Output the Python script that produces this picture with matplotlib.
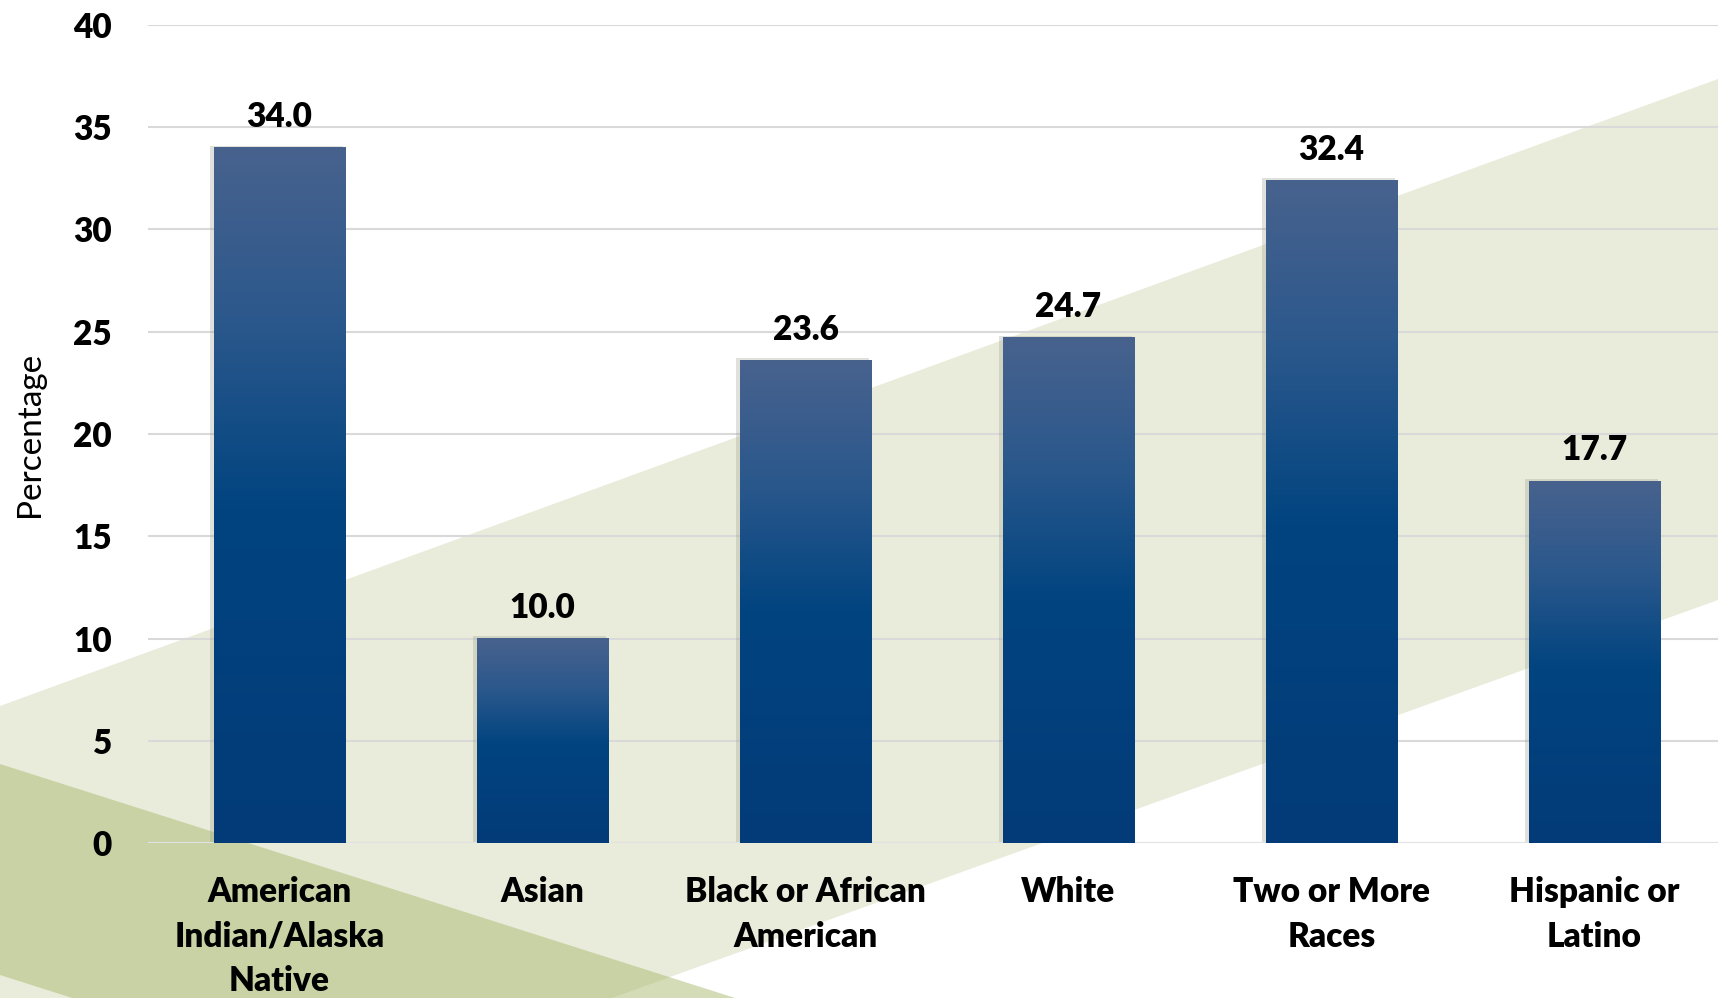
import numpy as np
import matplotlib
matplotlib.use("Agg")
from matplotlib import pyplot as plt
from matplotlib.colors import LinearSegmentedColormap
from matplotlib.patches import Polygon, Rectangle

plt.rcParams["font.family"] = ["Lato", "DejaVu Sans"]

categories = ["American\nIndian/Alaska\nNative", "Asian", "Black or African\nAmerican",
              "White", "Two or More\nRaces", "Hispanic or\nLatino"]
values = [34.0, 10.0, 23.6, 24.7, 32.4, 17.7]
y_ticks = [0, 5, 10, 15, 20, 25, 30, 35, 40]

W, H = 1718, 998
fig = plt.figure(figsize=(W / 100, H / 100), dpi=100)

# background shapes, in pixel coords of the figure
bg = fig.add_axes([0, 0, 1, 1], zorder=0)
bg.set_xlim(0, W)
bg.set_ylim(H, 0)
bg.axis("off")
bg.add_patch(Polygon([(0, 706), (W, 79), (W, 600), (0, 1218)],
                     closed=True, facecolor="#E9ECDA", edgecolor="none"))
bg.add_patch(Polygon([(0, 764), (1200, 1146), (1200, 1357), (0, 975)],
                     closed=True, facecolor=(168 / 255, 186 / 255, 112 / 255),
                     alpha=0.5, edgecolor="none"))

ax = fig.add_axes([148 / W, 1 - 843 / H, 1 - 148 / W, (843 - 25) / H], zorder=1)
ax.set_facecolor("none")

x = np.arange(len(values))
grad_cmap = LinearSegmentedColormap.from_list(
    "bar", [(0, "#033B78"), (0.48, "#014480"), (0.75, "#2B588C"), (1, "#48628E")])
grad = np.linspace(0, 1, 256).reshape(-1, 1)

bold = "heavy"
bars = ax.bar(x, values, width=0.5, color="none", zorder=3)
for b, v in zip(bars, values):
    x0, w = b.get_x(), b.get_width()
    # soft shadow on the left
    ax.add_patch(Rectangle((x0 - 0.014, -0.1), w + 0.006, v + 0.2, facecolor="#9A9A90",
                           alpha=0.3, edgecolor="none", zorder=2))
    ax.imshow(grad, extent=[x0, x0 + w, 0, v], origin="lower", cmap=grad_cmap,
              aspect="auto", zorder=3, interpolation="bilinear")
    ax.annotate(f"{v:.1f}", (b.get_x() + w / 2, v), xytext=(0, 15), textcoords="offset points",
                ha="center", va="baseline", fontsize=24, fontweight=bold, color="black")

ax.set_xlim(-0.5, 5.47)
ax.set_ylim(0, 40)
ax.set_yticks(y_ticks)
ax.set_xticks(x)
ax.set_xticklabels(categories, fontsize=24, fontweight=bold, linespacing=1.48)
for t in ax.get_yticklabels():
    t.set_fontsize(24)
    t.set_fontweight(bold)
ax.tick_params(axis="both", length=0)
ax.tick_params(axis="y", pad=26)
ax.tick_params(axis="x", pad=24)
ax.grid(axis="y", color="#D9D9D9", linewidth=1.5, zorder=1)
ax.set_axisbelow(True)
for s in ax.spines.values():
    s.set_visible(False)
ax.axhline(0, color="#E2E2E2", linewidth=2.2, zorder=2)
ax.set_ylabel("Percentage", fontsize=24, labelpad=20)

fig.savefig("out.png", dpi=100)
